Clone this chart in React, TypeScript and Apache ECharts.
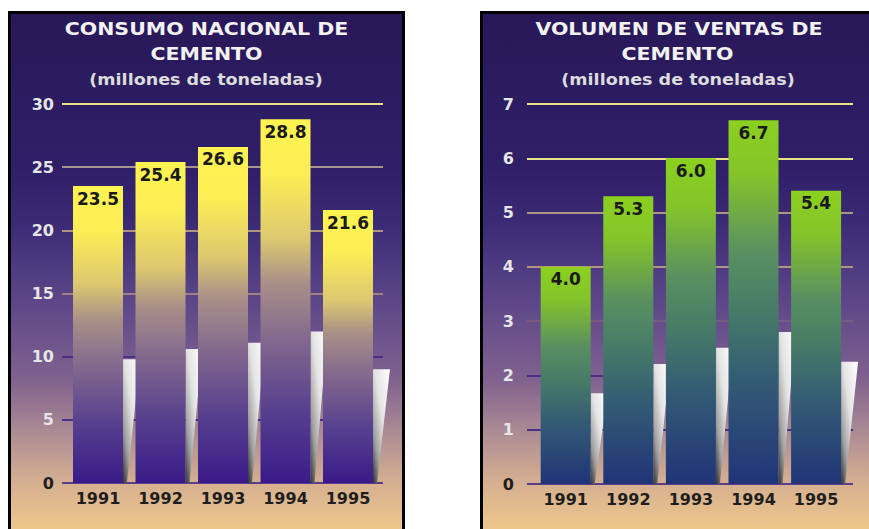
import React, { useEffect, useRef } from "react";
import * as echarts from "echarts";

// ---- data ----
const years = ["1991", "1992", "1993", "1994", "1995"];
const consumo = [23.5, 25.4, 26.6, 28.8, 21.6];
const ventas = [4.0, 5.3, 6.0, 6.7, 5.4];
// heights of the white "shadow" wedges
const consumoShadow = [9.8, 10.6, 11.1, 12.0, 9.0];
const ventasShadow = [1.67, 2.21, 2.51, 2.8, 2.25];
const consumoTitle = ["CONSUMO NACIONAL DE", "CEMENTO"];
const ventasTitle = ["VOLUMEN DE VENTAS DE", "CEMENTO"];
const unitLabel = "(millones de toneladas)";

const FONT = "'DejaVu Sans', sans-serif";
const LG = echarts.graphic.LinearGradient;

const bgStops = [
  { offset: 0, color: "#281858" },
  { offset: 0.3, color: "#2f1f68" },
  { offset: 0.4, color: "#3a2a74" },
  { offset: 0.554, color: "#5c4688" },
  { offset: 0.708, color: "#80628e" },
  { offset: 0.804, color: "#ab8a94" },
  { offset: 0.906, color: "#d6b090" },
  { offset: 1, color: "#f0c88c" },
];

function panelRect(x: number, width: number) {
  return {
    type: "rect",
    z: -10,
    silent: true,
    shape: { x, y: 12.5, width, height: 520 },
    style: { fill: new LG(0, 0, 0, 1, bgStops), stroke: "#000", lineWidth: 3 },
  };
}

function titleText(text: string, x: number, y: number, size: number, sx: number, fill: string) {
  return {
    type: "text",
    x,
    y,
    scaleX: sx,
    z: 100,
    silent: true,
    style: {
      text,
      x: 0,
      y: 0,
      textAlign: "center",
      textVerticalAlign: "middle",
      fontFamily: FONT,
      fontWeight: "bold",
      fontSize: size,
      fill,
    },
  };
}

function wedgeRender(params: any, api: any) {
  const idx = api.value(0);
  const v = api.value(1);
  const top = api.coord([idx, v]);
  const bot = api.coord([idx, 0]);
  const xr = top[0] + 25;
  return {
    type: "polygon",
    shape: {
      points: [
        [xr, top[1]],
        [xr + 17, top[1]],
        [xr + 4, bot[1]],
        [xr, bot[1]],
      ],
    },
    style: {
      fill: new LG(1, 0, 0, 1, [
        { offset: 0, color: "#ffffff" },
        { offset: 0.45, color: "#e4e4e4" },
        { offset: 0.75, color: "#a0a0a0" },
        { offset: 1, color: "#303030" },
      ]),
    },
  };
}

const yellowGrad = new LG(0, 0, 0, 1, [
  { offset: 0, color: "#fff352" },
  { offset: 0.15, color: "#fcee55" },
  { offset: 0.33, color: "#dcc870" },
  { offset: 0.45, color: "#a89088" },
  { offset: 0.6, color: "#846a8e" },
  { offset: 0.8, color: "#56408e" },
  { offset: 1, color: "#3a1a88" },
]);

const greenGrad = new LG(0, 0, 0, 1, [
  { offset: 0, color: "#8cd020" },
  { offset: 0.15, color: "#84c42a" },
  { offset: 0.36, color: "#5a9060" },
  { offset: 0.53, color: "#467a68" },
  { offset: 0.71, color: "#345c74" },
  { offset: 1, color: "#203478" },
]);

const LIGHT = "#e6e6e6";
const DARK = "#1e1e1e";

function labelAxis(gridIndex: number, max: number, interval: number, margin: number, darkBelow: number, lineColors: string[]) {
  return {
    gridIndex,
    type: "value",
    min: 0,
    max,
    interval,
    axisLine: { show: false },
    axisTick: { show: false },
    axisLabel: {
      margin,
      fontFamily: FONT,
      fontWeight: "bold",
      fontSize: 16,
      color: (val: any) => (Number(val) < darkBelow ? DARK : LIGHT),
    },
    splitLine: { show: true, lineStyle: { color: lineColors, width: 2 } },
  };
}

function hiddenY(gridIndex: number, max: number) {
  return { gridIndex, type: "value", min: 0, max, show: false, splitLine: { show: false } };
}

function catAxis(gridIndex: number, visible: boolean) {
  return {
    gridIndex,
    type: "category",
    data: years,
    show: visible,
    axisLine: { show: false },
    axisTick: { show: false },
    splitLine: { show: false },
    axisLabel: {
      margin: 7,
      fontFamily: FONT,
      fontWeight: "bold",
      fontSize: 16,
      color: DARK,
    },
  };
}

function barSeries(axisIndex: number, data: number[], color: any) {
  return {
    type: "bar",
    xAxisIndex: axisIndex,
    yAxisIndex: axisIndex,
    data,
    barWidth: 50,
    z: 3,
    itemStyle: { color },
    label: {
      show: true,
      position: "insideTop",
      distance: 4,
      fontFamily: FONT,
      fontWeight: "bold",
      fontSize: 17,
      color: "#1a1a1a",
      formatter: (p: any) => Number(p.value).toFixed(1),
    },
  };
}

function wedgeSeries(axisIndex: number, data: number[]) {
  return {
    type: "custom",
    xAxisIndex: axisIndex,
    yAxisIndex: axisIndex,
    renderItem: wedgeRender,
    data: data.map((v, i) => [i, v]),
    encode: { x: 0, y: 1 },
    z: 2,
    silent: true,
  };
}

export default function App() {
  const ref = useRef<HTMLDivElement>(null);
  useEffect(() => {
    if (!ref.current) return;
    const chart = echarts.init(ref.current, undefined, { renderer: "svg" });
    const option: any = {
      animation: false,
      graphic: [
        panelRect(9.5, 394),
        panelRect(481.5, 420),
        titleText(consumoTitle[0], 206.5, 28.5, 18, 1.14, "#f2f2f2"),
        titleText(consumoTitle[1], 206.5, 54, 18, 1.14, "#f2f2f2"),
        titleText(unitLabel, 206, 79.5, 15, 1.17, "#dcdcdc"),
        titleText(ventasTitle[0], 679, 28.5, 18, 1.14, "#f2f2f2"),
        titleText(ventasTitle[1], 677.5, 54, 18, 1.14, "#f2f2f2"),
        titleText(unitLabel, 678, 79.5, 15, 1.17, "#dcdcdc"),
      ],
      grid: [
        { left: 62, top: 104, width: 321, height: 379 },
        { left: 66.75, top: 104, width: 312.5, height: 379 },
        { left: 527, top: 104, width: 326, height: 380 },
        { left: 534.4, top: 104, width: 313, height: 380 },
      ],
      xAxis: [catAxis(0, false), catAxis(1, true), catAxis(2, false), catAxis(3, true)],
      yAxis: [
        labelAxis(0, 30, 5, 8, 5, ["#5a3c8c", "#4a2f86", "#4a2f86", "#a08080", "#b09484", "#a89490", "#e8e08a"]),
        hiddenY(1, 30),
        labelAxis(2, 7, 1, 13, 1, ["#5a3c8c", "#4a2f86", "#4a2f86", "#7a5a80", "#b09484", "#b09484", "#e8e08a", "#e8e08a"]),
        hiddenY(3, 7),
      ],
      series: [
        wedgeSeries(1, consumoShadow),
        barSeries(1, consumo, yellowGrad),
        wedgeSeries(3, ventasShadow),
        barSeries(3, ventas, greenGrad),
      ],
    };
    chart.setOption(option);
    return () => chart.dispose();
  }, []);
  return (
    <div
      ref={ref}
      style={{ position: "fixed", left: 0, top: 0, width: 869, height: 529, background: "#fff" }}
    />
  );
}
